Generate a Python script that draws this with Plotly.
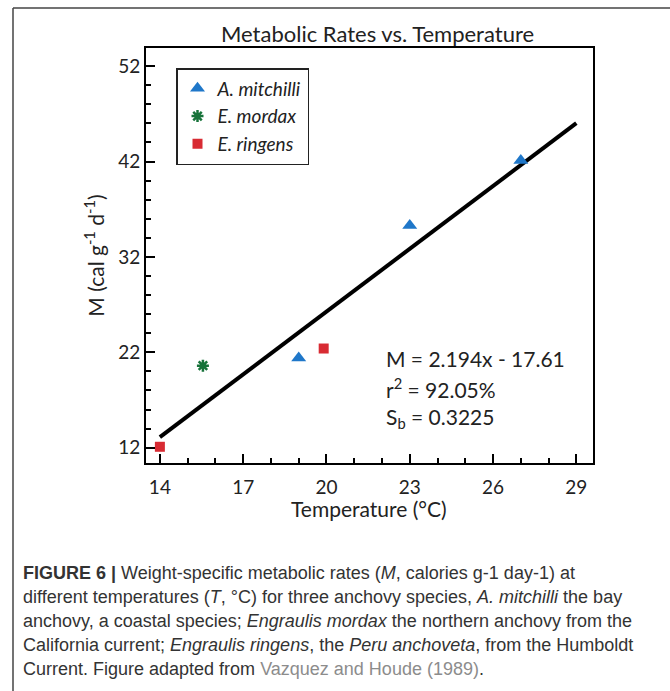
import plotly.graph_objects as go

# ---- data ----
mitchilli_T = [19, 23, 27]
mitchilli_M = [21.4, 35.3, 42.1]
mordax_T = [15.55]
mordax_M = [20.6]
ringens_T = [14, 19.9]
ringens_M = [12.1, 22.4]
fit_slope = 2.194
fit_intercept = -17.61
fit_T = [14, 29]
fit_M = [fit_slope * t + fit_intercept for t in fit_T]
x_ticks = [14, 17, 20, 23, 26, 29]
y_ticks = [12, 22, 32, 42, 52]

BLUE = "#1f77c9"
GREEN = "#17733a"
RED = "#d82b33"
FONT = "Lato"

# plot area in pixels
W, H = 670, 691
L, R, T, B = 146, 593, 48, 463
pw, ph = R - L, B - T
def px(x):
    return (x - L) / pw
def py(y):
    return (B - y) / ph

fig = go.Figure()
fig.add_trace(go.Scatter(x=fit_T, y=fit_M, mode="lines", line=dict(color="black", width=4),
                         showlegend=False, hoverinfo="skip"))
fig.add_trace(go.Scatter(x=mitchilli_T, y=mitchilli_M, mode="markers", name="<i>A. mitchilli</i>",
                         marker=dict(symbol="triangle-up", size=13, color=BLUE)))
fig.add_trace(go.Scatter(x=mordax_T, y=mordax_M, mode="markers", name="<i>E. mordax</i>",
                         marker=dict(symbol="asterisk-open", size=10, color=GREEN,
                                     line=dict(color=GREEN, width=2.5))))
fig.add_trace(go.Scatter(x=ringens_T, y=ringens_M, mode="markers", name="<i>E. ringens</i>",
                         marker=dict(symbol="square", size=10, color=RED)))

axis_common = dict(showline=True, linecolor="black", linewidth=2, mirror=True,
                   ticks="inside", ticklen=9, tickwidth=1.5, tickcolor="black",
                   showgrid=False, zeroline=False,
                   tickfont=dict(family=FONT, size=19, color="#222"))
fig.update_xaxes(range=[13.5, 29.6], tickvals=x_ticks, ticklabelstandoff=6,
                 minor=dict(dtick=1, tick0=14, ticks="inside", ticklen=5, tickwidth=1.5, tickcolor="black"),
                 **axis_common)
fig.update_yaxes(range=[10.4, 53.9], tickvals=y_ticks,
                 minor=dict(dtick=2, tick0=12, ticks="inside", ticklen=5, tickwidth=1.5, tickcolor="black"),
                 title=dict(text="M (cal g<sup>-1</sup> d<sup>-1</sup>)", font=dict(family=FONT, size=21, color="#222"), standoff=8),
                 **axis_common)

anns = []
stats = ["M = 2.194x - 17.61", "r<sup>2</sup> = 92.05%", "S<sub>b</sub> = 0.3225"]
for i, s in enumerate(stats):
    anns.append(dict(x=px(384), y=py(358 + 30 * i), xref="paper", yref="paper", text=s, showarrow=False,
                     xanchor="left", yanchor="middle", font=dict(family=FONT, size=21, color="#222")))
anns.append(dict(x=px(377), y=py(49), xref="paper", yref="paper", text="Metabolic Rates vs. Temperature",
                 showarrow=False, xanchor="center", yanchor="bottom",
                 font=dict(family=FONT, size=22, color="#222")))
anns.append(dict(x=px(369), y=py(508), xref="paper", yref="paper", text="Temperature (°C)",
                 showarrow=False, xanchor="center", yanchor="middle",
                 font=dict(family=FONT, size=21, color="#222")))

cap_lines = [
    "<b>FIGURE 6 |</b> Weight-specific metabolic rates (<i>M</i>, calories g-1 day-1) at",
    "different temperatures (<i>T</i>, °C) for three anchovy species, <i>A. mitchilli</i> the bay",
    "anchovy, a coastal species; <i>Engraulis mordax</i> the northern anchovy from the",
    "California current; <i>Engraulis ringens</i>, the <i>Peru anchoveta</i>, from the Humboldt",
    "Current. Figure adapted from <span style='color:#8c8c8c'>Vazquez and Houde (1989)</span>.",
]
for i, s in enumerate(cap_lines):
    anns.append(dict(x=px(21), y=py(573 + 24 * i), xref="paper", yref="paper", text=s, showarrow=False,
                     xanchor="left", yanchor="middle",
                     font=dict(family="Liberation Sans", size=18, color="#333")))

shapes = [
    dict(type="line", xref="paper", yref="paper", x0=px(13), x1=px(671), y0=py(8), y1=py(8),
         line=dict(color="#444", width=1.5)),
    dict(type="line", xref="paper", yref="paper", x0=px(13), x1=px(13), y0=py(8), y1=py(692),
         line=dict(color="#444", width=1.5)),
]

fig.update_layout(
    width=W, height=H, margin=dict(l=L, r=W - R, t=T, b=H - B, pad=0),
    paper_bgcolor="white", plot_bgcolor="white",
    annotations=anns, shapes=shapes,
    legend=dict(x=px(176), y=py(68), xanchor="left", yanchor="top",
                bordercolor="#222", borderwidth=1.5, bgcolor="white",
                font=dict(family=FONT, size=19, color="#222"), itemwidth=30),
)
fig.write_html("out.html")
